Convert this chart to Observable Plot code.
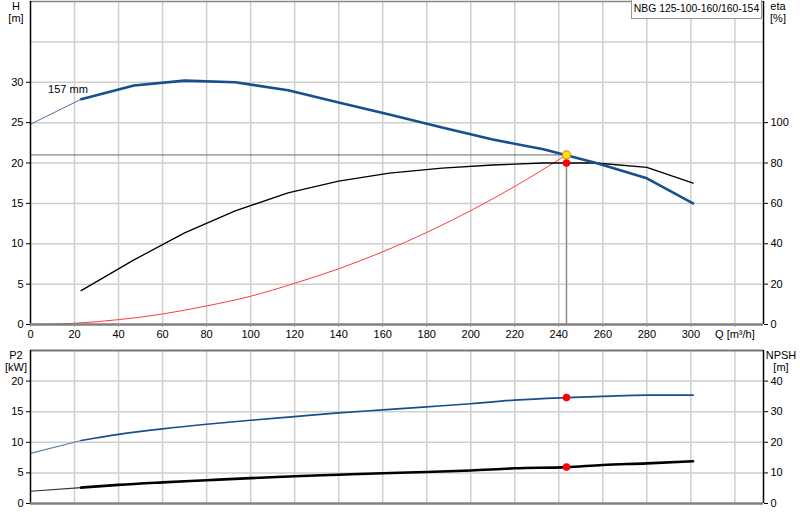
<!DOCTYPE html>
<html>
<head>
<meta charset="utf-8">
<script src="https://cdn.jsdelivr.net/npm/d3@7"></script>
<script src="https://cdn.jsdelivr.net/npm/@observablehq/plot@0.6"></script>
<style>
  html, body { margin: 0; padding: 0; background: #fff; }
  #wrap { position: relative; width: 800px; height: 520px; font-family: Arial, "Liberation Sans", sans-serif; font-size: 11px; color: #000; }
  #wrap svg { display: block; }
  .lbl { position: absolute; text-align: center; line-height: 12px; font-size: 11px; }
  #title { position: absolute; left: 631px; top: 0px; width: 129px; height: 18px; border: 1px solid #999; border-top: none; background: #fff; text-align: center; line-height: 18px; font-size: 10.4px; white-space: nowrap; }
</style>
</head>
<body>
<div id="wrap">
  <div id="top"></div>
  <div id="bottom"></div>
  <div class="lbl" style="left:3px;top:0px;width:26px;">H<br>[m]</div>
  <div class="lbl" style="left:764px;top:0px;width:28px;">eta<br>[%]</div>
  <div class="lbl" style="left:2px;top:349px;width:28px;">P2<br>[kW]</div>
  <div class="lbl" style="left:763px;top:349px;width:36px;">NPSH<br>[m]</div>
  <div id="title">NBG 125-100-160/160-154</div>
</div>
<script>
// ---- Data ----
const impellerLabel = "157 mm";

// Head curve H [m] vs Q [m³/h]
const qHead = [0, 23, 47, 70, 93, 117, 140, 163, 187, 210, 233, 257, 280, 301];
const head  = [24.8, 27.9, 29.6, 30.2, 30.0, 29.0, 27.5, 26.0, 24.4, 22.9, 21.7, 20.0, 18.1, 15.0];

// Efficiency eta [%]
const qEta = [23, 47, 70, 93, 117, 140, 163, 187, 210, 233, 257, 280, 301];
const eta  = [16.8, 32, 45.4, 56.3, 65.2, 71, 75, 77.5, 79, 80, 80, 77.8, 70];

// System curve H [m]
const qSys = [0, 20, 40, 60, 80, 100, 120, 140, 160, 180, 200, 220, 243.5];
const hSys = [0, 0.15, 0.6, 1.3, 2.3, 3.5, 5.1, 6.9, 9.0, 11.4, 14.1, 17.1, 21];

// Duty point
const dutyQ = 243.5, dutyH = 21, dutyEta = 80, dutyP2 = 17.3, dutyNpsh = 11.9;

// Power P2 [kW]
const qLow = [0, 23, 40, 60, 80, 100, 120, 140, 160, 180, 200, 220, 243.5, 260, 280, 301];
const p2   = [8.2, 10.3, 11.3, 12.2, 12.95, 13.6, 14.2, 14.8, 15.3, 15.8, 16.3, 16.9, 17.3, 17.5, 17.7, 17.7];
// NPSH [m]
const npsh = [4.0, 5.2, 6.1, 6.9, 7.6, 8.3, 8.9, 9.4, 9.9, 10.3, 10.8, 11.5, 11.9, 12.6, 13.1, 13.8];

// Axis ticks
const qTicks = d3.range(0, 340, 20);
const hTicks = [0, 5, 10, 15, 20, 25, 30];
const etaTicks = [0, 20, 40, 60, 80, 100];
const p2Ticks = [0, 5, 10, 15, 20];
const npshTicks = [0, 10, 20, 30, 40];

// ---- Tables ----
const headRows = qHead.map((q, i) => ({q, h: head[i]}));
const etaRows = qEta.map((q, i) => ({q, e: eta[i]}));
const sysRows = qSys.map((q, i) => ({q, h: hSys[i]}));
const p2Rows = qLow.map((q, i) => ({q, p: p2[i]}));
const npshRows = qLow.map((q, i) => ({q, n: npsh[i]}));

const blue = "#174f8c";
const grid = "#cfcfcf";
const font = {fontFamily: "Arial, 'Liberation Sans', sans-serif", fontSize: "11px", color: "#000", background: "#fff"};
const xDom = [0, 333];

// ---- Top panel ----
const topPlot = Plot.plot({
  width: 800, height: 345,
  marginLeft: 30, marginRight: 37, marginTop: 1, marginBottom: 21,
  style: font,
  x: {domain: xDom},
  y: {domain: [0, 40]},
  marks: [
    Plot.gridX(qTicks.filter(d => d > 0), {stroke: grid, strokeOpacity: 1, strokeWidth: 1.5}),
    Plot.gridY([5, 10, 15, 20, 25, 30, 35], {stroke: grid, strokeOpacity: 1, strokeWidth: 1.5}),
    Plot.ruleY([40], {stroke: "#888", strokeWidth: 1.5}),
    Plot.ruleX([dutyQ], {y1: 0, y2: dutyH, stroke: "#8a8a8a", strokeWidth: 1.5}),
    Plot.ruleY([dutyH], {x1: 0, x2: dutyQ, stroke: "#6a6a6a", strokeWidth: 1}),
    Plot.line(sysRows, {x: "q", y: "h", stroke: "#ff3b3b", strokeWidth: 1, curve: "monotone-x"}),
    Plot.line(etaRows.map(d => ({q: d.q, y: d.e / 4})), {x: "q", y: "y", stroke: "#000", strokeWidth: 1.3}),
    Plot.line(headRows.slice(0, 2), {x: "q", y: "h", stroke: "#4d6f9c", strokeWidth: 1}),
    Plot.line(headRows.slice(1), {x: "q", y: "h", stroke: blue, strokeWidth: 2.6}),
    Plot.dot([{q: dutyQ, y: dutyEta / 4}], {x: "q", y: "y", r: 3.8, fill: "#ff0000", stroke: "none"}),
    Plot.dot([{q: dutyQ, y: dutyH}], {x: "q", y: "y", r: 4, fill: "#ffe21a", stroke: "#f08a00", strokeWidth: 1.2}),
    Plot.text([{q: 8, y: 29.1, t: impellerLabel}], {x: "q", y: "y", text: "t", textAnchor: "start", fill: "#000"}),
    Plot.ruleX([0], {stroke: "#000", strokeWidth: 1.5}),
    Plot.ruleX([333], {stroke: "#000", strokeWidth: 1.5}),
    Plot.ruleY([0], {stroke: "#808080", strokeWidth: 2.5}),
    Plot.axisX(qTicks, {anchor: "bottom", tickSize: 3, stroke: "#999", tickPadding: 3, label: null,
      tickFormat: d => d === 320 ? "Q [m³/h]" : String(d)}),
    Plot.axisY(hTicks, {anchor: "left", tickSize: 4, tickPadding: 3, label: null}),
    Plot.axisY(etaTicks.map(d => d / 4), {anchor: "right", tickSize: 4, tickPadding: 3, label: null,
      tickFormat: d => String(d * 4)})
  ]
});
document.getElementById("top").appendChild(topPlot);

// ---- Bottom panel ----
const bottomPlot = Plot.plot({
  width: 800, height: 175,
  marginLeft: 30, marginRight: 37, marginTop: 5, marginBottom: 17,
  style: font,
  x: {domain: xDom, axis: null},
  y: {domain: [0, 25]},
  marks: [
    Plot.gridX(qTicks.filter(d => d > 0), {stroke: grid, strokeOpacity: 1, strokeWidth: 1.5}),
    Plot.gridY([5, 10, 15, 20], {stroke: grid, strokeOpacity: 1, strokeWidth: 1.5}),
    Plot.ruleY([25], {stroke: "#777", strokeWidth: 2}),
    Plot.line(p2Rows.slice(0, 2), {x: "q", y: "p", stroke: "#5f7ea6", strokeWidth: 1.2}),
    Plot.line(p2Rows.slice(1), {x: "q", y: "p", stroke: blue, strokeWidth: 1.7, curve: "monotone-x"}),
    Plot.line(npshRows.slice(0, 2).map(d => ({q: d.q, y: d.n / 2})), {x: "q", y: "y", stroke: "#333", strokeWidth: 1.2}),
    Plot.line(npshRows.slice(1).map(d => ({q: d.q, y: d.n / 2})), {x: "q", y: "y", stroke: "#000", strokeWidth: 2.6, curve: "monotone-x"}),
    Plot.dot([{q: dutyQ, y: dutyP2}, {q: dutyQ, y: dutyNpsh / 2}], {x: "q", y: "y", r: 3.8, fill: "#ff0000", stroke: "none"}),
    Plot.ruleX([0], {stroke: "#000", strokeWidth: 1.5}),
    Plot.ruleX([333], {stroke: "#000", strokeWidth: 1.5}),
    Plot.ruleY([0], {stroke: "#808080", strokeWidth: 2.5}),
    Plot.axisY(p2Ticks, {anchor: "left", tickSize: 4, tickPadding: 3, label: null}),
    Plot.axisY(npshTicks.map(d => d / 2), {anchor: "right", tickSize: 4, tickPadding: 3, label: null,
      tickFormat: d => String(d * 2)})
  ]
});
document.getElementById("bottom").appendChild(bottomPlot);
</script>
</body>
</html>
